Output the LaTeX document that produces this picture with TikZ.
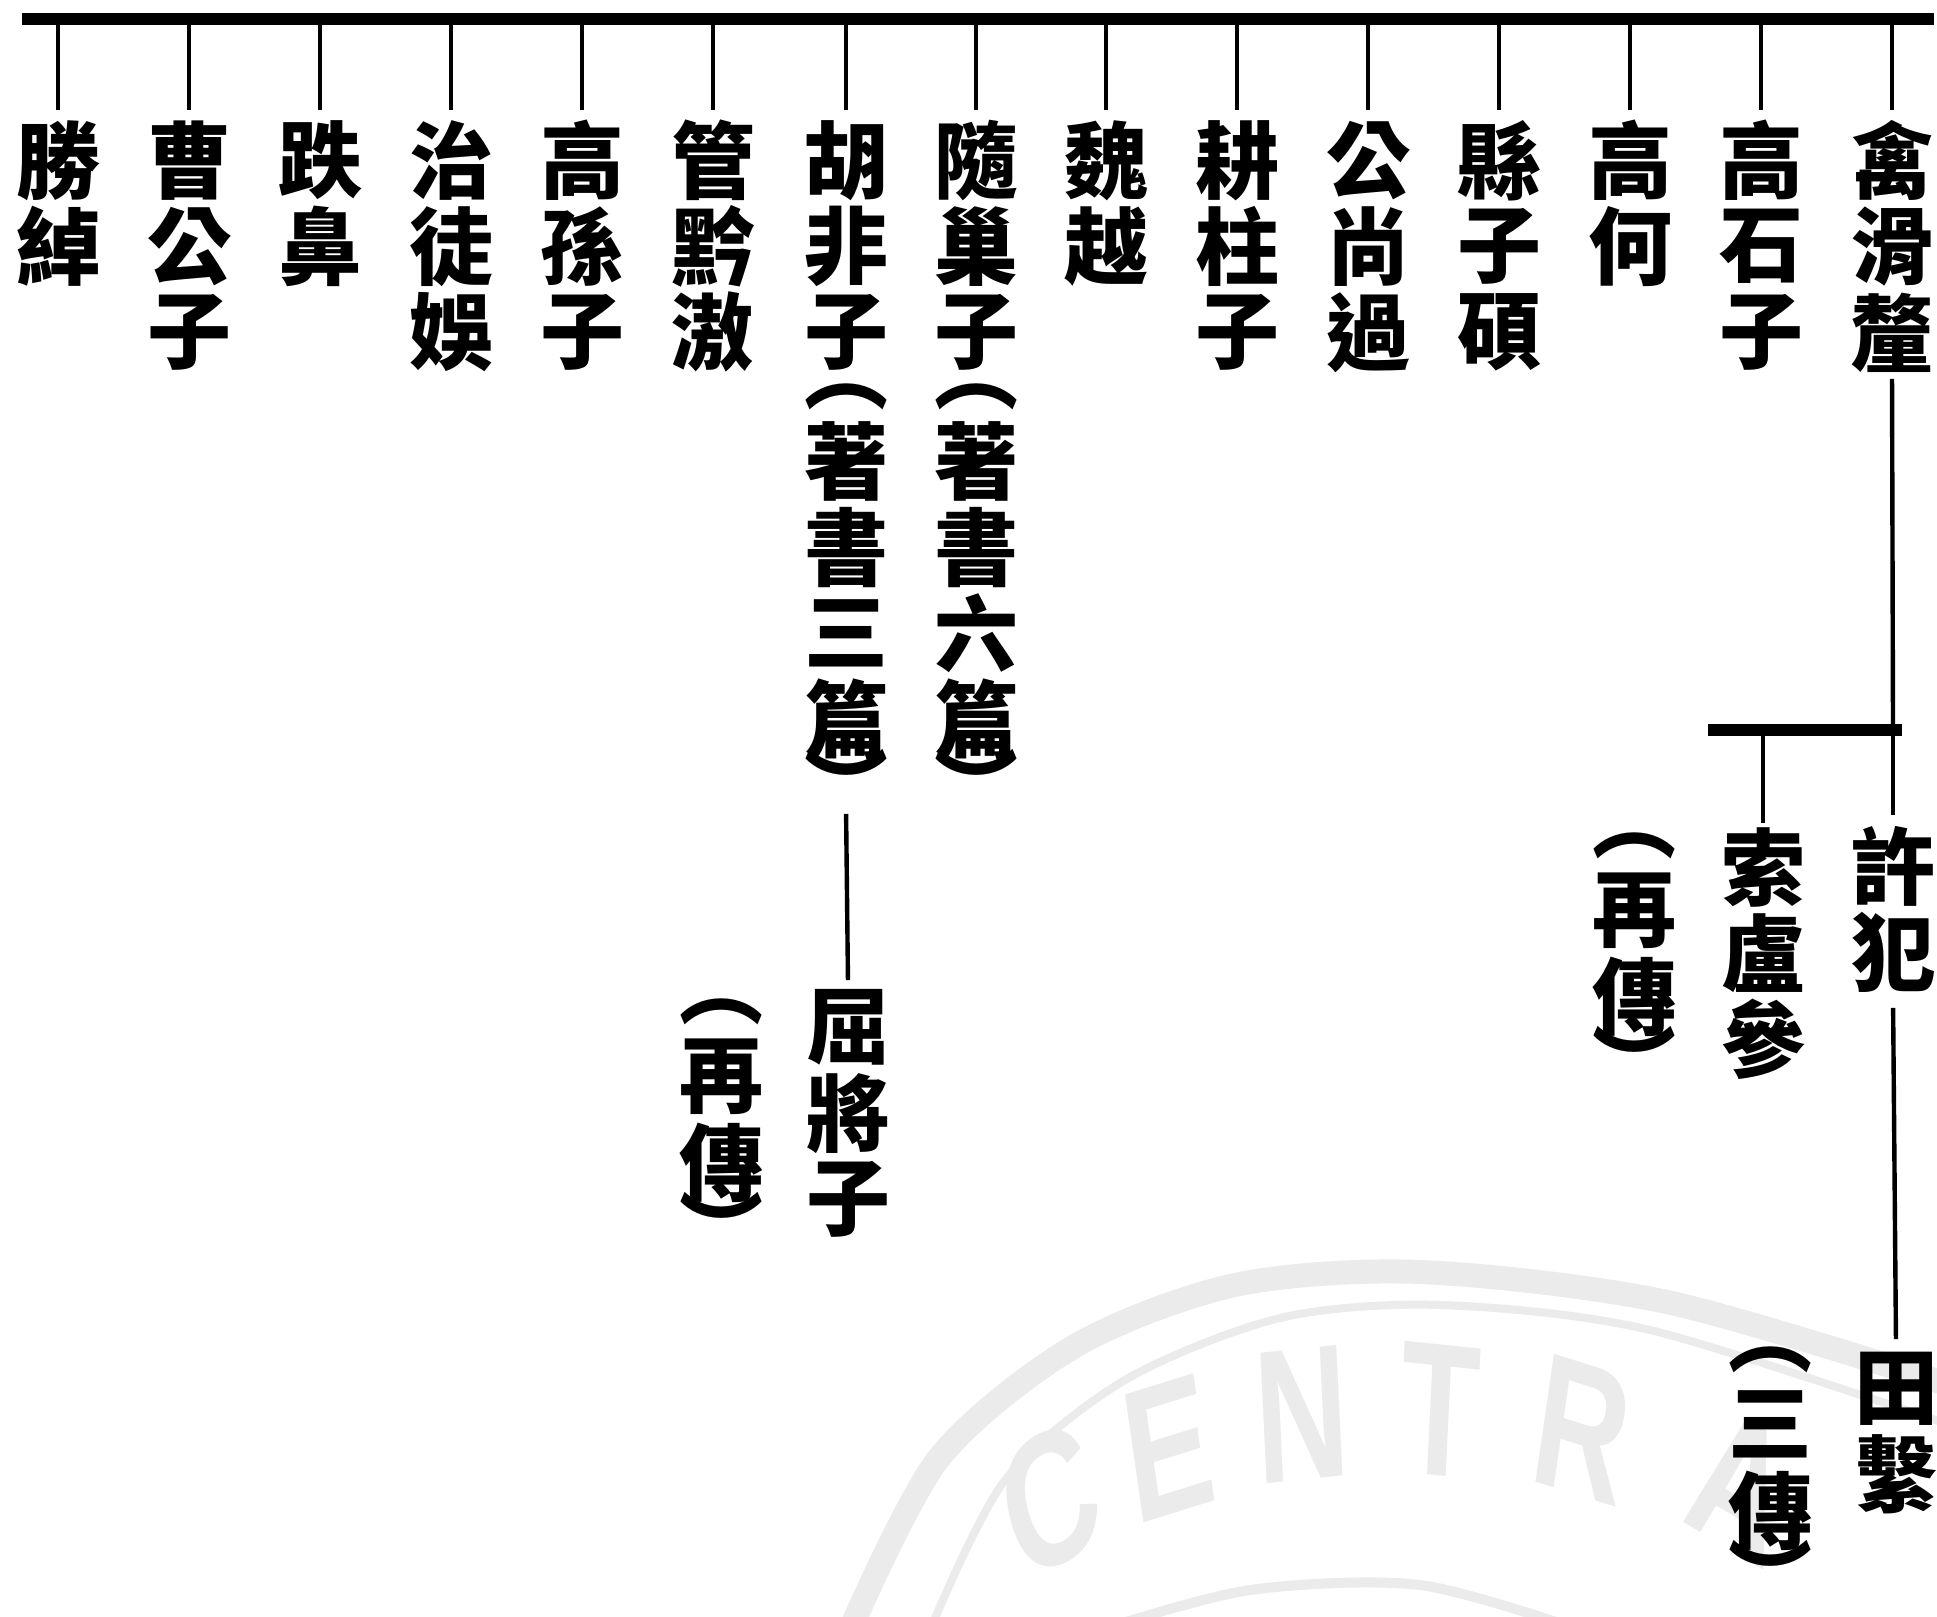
\documentclass[tikz,border=0pt]{standalone}
\usepackage{fontspec}
\newfontfamily\cjkfont{Noto Sans CJK TC}
\newfontfamily\wmfont{Liberation Sans}
\newcommand\cc[1]{\vbox to 43pt{\vss\hbox to 46pt{\hss#1\hss}\vss}}
\newcommand\hc[1]{\vbox to 21.5pt{\vss\hbox to 46pt{\hss#1\hss}\vss}}
\newcommand\vcol[1]{\vbox{\offinterlineskip#1}}
\begin{document}
\begin{tikzpicture}[x=0.5pt,y=-0.5pt,
  person/.style={anchor=north,inner sep=0pt,font=\cjkfont\bfseries\fontsize{42pt}{43pt}\selectfont},
  mainbar/.style={line width=6pt},
  link/.style={line width=2.2pt},
  wm/.style={text=black!8,inner sep=0pt,font=\wmfont\bfseries\fontsize{95pt}{95pt}\selectfont,xscale=0.68},
  wmline/.style={draw=black!8,line cap=round}]
\useasboundingbox (0,0) rectangle (1937,1616);
\fill[white] (0,0) rectangle (1937,1616);
% watermark
\draw[wmline,line width=12pt] plot[smooth] coordinates {(850,1630) (939,1458) (1075,1346) (1235,1285) (1420,1272) (1667,1302) (1950,1385)};
\draw[wmline,line width=4pt] plot[smooth] coordinates {(930,1630) (1005,1480) (1125,1380) (1280,1318) (1440,1305) (1650,1330) (1950,1425)};
\draw[wmline,line width=5pt] plot[smooth] coordinates {(1100,1630) (1250,1590) (1420,1585) (1580,1630)};
\node[wm,rotate=22] (wmC) at (1050,1500) {C};
\node[wm,rotate=12] (wmE) at (1168,1448) {E};
\node[wm,rotate=4] (wmN) at (1302,1414) {N};
\node[wm,rotate=-4] (wmT) at (1440,1410) {T};
\node[wm,rotate=-12] (wmR) at (1582,1430) {R};
\node[wm,rotate=-22] (wmA) at (1740,1486) {A};
% main bar
\coordinate (barL) at (22,19);
\coordinate (barR) at (1934,19);
\draw[mainbar] (barL) -- (barR);
% first generation
\node[person] (c0) at (58,117) {\vcol{\cc{勝}\cc{綽}}};
\node[person] (c1) at (189,117) {\vcol{\cc{曹}\cc{公}\cc{子}}};
\node[person] (c2) at (320,117) {\vcol{\cc{跌}\cc{鼻}}};
\node[person] (c3) at (451,117) {\vcol{\cc{治}\cc{徒}\cc{娛}}};
\node[person] (c4) at (582,117) {\vcol{\cc{高}\cc{孫}\cc{子}}};
\node[person] (c5) at (713,117) {\vcol{\cc{管}\cc{黔}\cc{滶}}};
\node[person] (c6) at (846,117) {\vcol{\cc{胡}\cc{非}\cc{子}\hc{︵}\cc{著}\cc{書}\cc{三}\cc{篇}\hc{︶}}};
\node[person] (c7) at (976,117) {\vcol{\cc{隨}\cc{巢}\cc{子}\hc{︵}\cc{著}\cc{書}\cc{六}\cc{篇}\hc{︶}}};
\node[person] (c8) at (1106,117) {\vcol{\cc{魏}\cc{越}}};
\node[person] (c9) at (1237,117) {\vcol{\cc{耕}\cc{柱}\cc{子}}};
\node[person] (c10) at (1368,117) {\vcol{\cc{公}\cc{尚}\cc{過}}};
\node[person] (c11) at (1499,117) {\vcol{\cc{縣}\cc{子}\cc{碩}}};
\node[person] (c12) at (1630,117) {\vcol{\cc{高}\cc{何}}};
\node[person] (c13) at (1761,117) {\vcol{\cc{高}\cc{石}\cc{子}}};
\node[person] (c14) at (1892,117) {\vcol{\cc{禽}\cc{滑}\cc{釐}}};
\foreach \i/\x in {0/58,1/189,2/320,3/451,4/582,5/713,6/846,7/976,8/1106,9/1237,10/1368,11/1499,12/1630,13/1761,14/1892}{
  \coordinate (b\i) at (\x,19);
  \draw[link,shorten >=3.5pt] (b\i) -- (c\i.north);
}
% Hu Feizi branch
\node[person] (qu) at (848,984) {\vcol{\cc{屈}\cc{將}\cc{子}}};
\draw[link,shorten <=4pt,shorten >=2pt] (c6.south) -- (qu.north);
\node[person] (zc1) at (721,990) {\vcol{\hc{︵}\cc{再}\cc{傳}\hc{︶}}};
% Qin Huali branch
\coordinate (j) at (1893,730);
\coordinate (jL) at (1708,730);
\coordinate (jR) at (1902,730);
\coordinate (jM) at (1763,730);
\draw[link,shorten <=1.5pt] (c14.south) -- (j);
\draw[mainbar] (jL) -- (jR);
\node[person] (xu) at (1893,823) {\vcol{\cc{許}\cc{犯}}};
\draw[link,shorten >=4pt] (j) -- (xu.north);
\node[person] (suo) at (1763,824) {\vcol{\cc{索}\cc{盧}\cc{參}}};
\draw[link,shorten >=0.5pt] (jM) -- (suo.north);
\node[person] (zc2) at (1634,824) {\vcol{\hc{︵}\cc{再}\cc{傳}\hc{︶}}};
\node[person] (tian) at (1896,1345) {\vcol{\cc{田}\cc{繫}}};
\draw[link,shorten <=6pt,shorten >=3pt] (xu.south) -- (tian.north);
\node[person] (sc) at (1770,1338) {\vcol{\hc{︵}\cc{三}\cc{傳}\hc{︶}}};
\end{tikzpicture}
\end{document}
